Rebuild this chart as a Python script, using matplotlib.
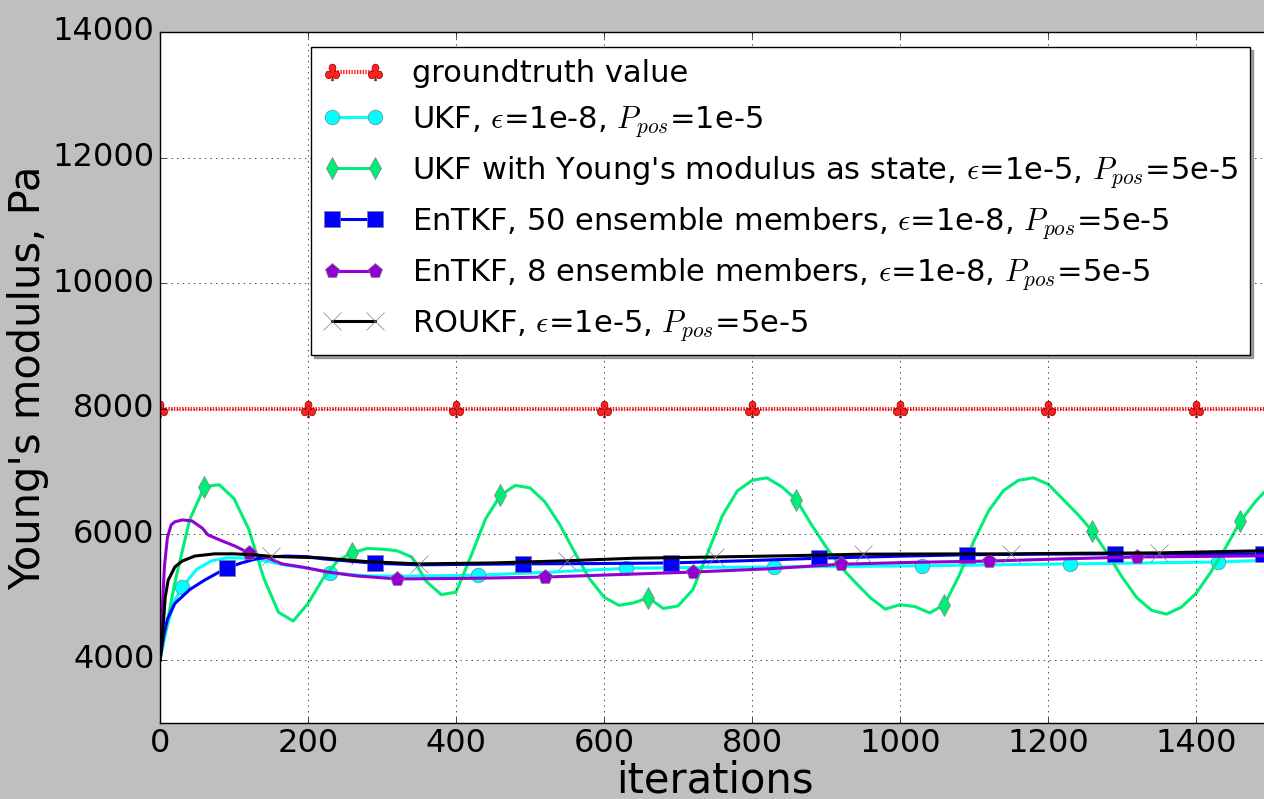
import numpy as np
import matplotlib
matplotlib.use('Agg')
import matplotlib.pyplot as plt

# groundtruth
gt_x = [0, 200, 400, 600, 800, 1000, 1200, 1400, 1500]
gt_y = [8000, 8000, 8000, 8000, 8000, 8000, 8000, 8000, 8000]
gt_marks = [0, 200, 400, 600, 800, 1000, 1200, 1400]

# UKF
ukf_x = [0, 5, 10, 20, 30, 50, 70, 90, 110, 130, 150, 170, 200, 230, 280, 330,
         430, 530, 630, 730, 830, 930, 1030, 1130, 1230, 1330, 1430, 1500]
ukf_y = [4000, 4300, 4550, 4950, 5160, 5450, 5580, 5625, 5625, 5600, 5560, 5510,
         5460, 5390, 5340, 5335, 5350, 5400, 5460, 5475, 5480, 5490, 5500, 5515,
         5530, 5545, 5560, 5590]
ukf_marks = [30, 230, 430, 630, 830, 1030, 1230, 1430]

# UKF with Young's modulus as state (sampled every 20 iterations)
ym_x = np.arange(0, 1501, 20)
ym_y = [4000, 5230, 6230, 6760, 6790, 6570, 6080, 5310, 4760, 4620,
        4900, 5290, 5580, 5710, 5775, 5765, 5740, 5640, 5250, 5040,
        5080, 5650, 6250, 6620, 6780, 6740, 6520, 6160, 5720, 5300,
        5000, 4870, 4910, 4990, 4820, 4860, 5120, 5700, 6300, 6690,
        6860, 6900, 6760, 6550, 6160, 5800, 5480, 5230, 4990, 4810,
        4880, 4850, 4750, 4880, 5350, 5900, 6380, 6700, 6860, 6900,
        6800, 6560, 6320, 6050, 5700, 5320, 4990, 4790, 4730, 4840,
        5060, 5400, 5790, 6210, 6520, 6770]
ym_marks = [60, 260, 460, 660, 860, 1060, 1260, 1460]

# EnTKF 50 members
en50_x = [0, 5, 10, 20, 40, 60, 90, 110, 130, 150, 170, 200, 220, 290, 350, 490,
          590, 690, 790, 890, 990, 1090, 1190, 1290, 1390, 1490, 1500]
en50_y = [4000, 4400, 4650, 4900, 5120, 5270, 5465, 5545, 5610, 5640, 5655, 5645,
          5610, 5540, 5515, 5530, 5535, 5545, 5580, 5620, 5650, 5675, 5685, 5690,
          5690, 5690, 5690]
en50_marks = [90, 290, 490, 690, 890, 1090, 1290, 1490]

# EnTKF 8 members
en8_x = [0, 3, 6, 10, 15, 20, 30, 43, 57, 65, 84, 101, 120, 142, 165, 192, 227,
         264, 320, 420, 520, 620, 720, 820, 920, 1020, 1120, 1220, 1320, 1420, 1500]
en8_y = [4000, 4800, 5500, 5950, 6150, 6200, 6230, 6215, 6100, 5990, 5895, 5815,
         5705, 5640, 5530, 5480, 5400, 5340, 5290, 5300, 5320, 5360, 5400, 5450,
         5525, 5555, 5575, 5610, 5640, 5650, 5660]
en8_marks = [120, 320, 520, 720, 920, 1120, 1320]

# ROUKF
ro_x = [0, 4, 7, 11, 20, 30, 47, 74, 100, 128, 150, 219, 281, 350, 450, 550, 640,
        750, 850, 950, 1050, 1150, 1250, 1350, 1450, 1500]
ro_y = [4000, 4500, 5000, 5270, 5480, 5575, 5655, 5690, 5690, 5672, 5650, 5625,
        5565, 5530, 5545, 5580, 5620, 5640, 5660, 5685, 5688, 5690, 5700, 5705,
        5730, 5740]
ro_marks = [150, 350, 550, 750, 950, 1150, 1350]


def idx(x, marks):
    return list(np.where(np.isin(np.asarray(x), marks))[0])


plt.style.use('classic')
plt.rcParams['mathtext.fontset'] = 'cm'

fig = plt.figure(figsize=(12.64, 7.99), dpi=100)
ax = fig.add_axes([0.1266, 0.0954, 0.8782, 0.8646])

ax.plot(gt_x, gt_y, color='#ff2020', lw=3, ls=(0, (1, 1)), marker=r'$\clubsuit$',
        ms=12, mec='darkred', mew=0.5, markevery=idx(gt_x, gt_marks),
        label='groundtruth value')
ax.plot(ukf_x, ukf_y, color='cyan', lw=2.2, marker='o', ms=10.5, mec='gray',
        markevery=idx(ukf_x, ukf_marks),
        label=r'UKF, $\epsilon$=1e-8, $P_{pos}$=1e-5')
ax.plot(ym_x, ym_y, color='#00ee77', lw=2.2, marker='d', ms=11, mec='gray',
        markevery=idx(ym_x, ym_marks),
        label=r"UKF with Young's modulus as state, $\epsilon$=1e-5, $P_{pos}$=5e-5")
ax.plot(en50_x, en50_y, color='blue', lw=2.2, marker='s', ms=11, mec='gray',
        markevery=idx(en50_x, en50_marks),
        label=r'EnTKF, 50 ensemble members, $\epsilon$=1e-8, $P_{pos}$=5e-5')
ax.plot(en8_x, en8_y, color='darkviolet', lw=2.2, marker='p', ms=11, mec='gray',
        markevery=idx(en8_x, en8_marks),
        label=r'EnTKF, 8 ensemble members, $\epsilon$=1e-8, $P_{pos}$=5e-5')
ax.plot(ro_x, ro_y, color='black', lw=2.2, marker='x', ms=13, mec='gray',
        markevery=idx(ro_x, ro_marks),
        label=r'ROUKF, $\epsilon$=1e-5, $P_{pos}$=5e-5')

ax.set_xlim(0, 1500)
ax.set_ylim(3000, 14000)
ax.set_xticks([0, 200, 400, 600, 800, 1000, 1200, 1400])
ax.set_yticks([4000, 6000, 8000, 10000, 12000, 14000])
ax.tick_params(labelsize=23)
ax.grid(True)
ax.set_xlabel('iterations', fontsize=30, labelpad=0)
ax.set_ylabel("Young's modulus, Pa", fontsize=30, labelpad=2)

ax.legend(loc='upper right', bbox_to_anchor=(0.982, 0.978), borderaxespad=0,
          fontsize=22, shadow=True, numpoints=2, handlelength=2.0,
          handletextpad=0.9, labelspacing=0.5)

plt.savefig('out.png', dpi=100, facecolor=fig.get_facecolor())
